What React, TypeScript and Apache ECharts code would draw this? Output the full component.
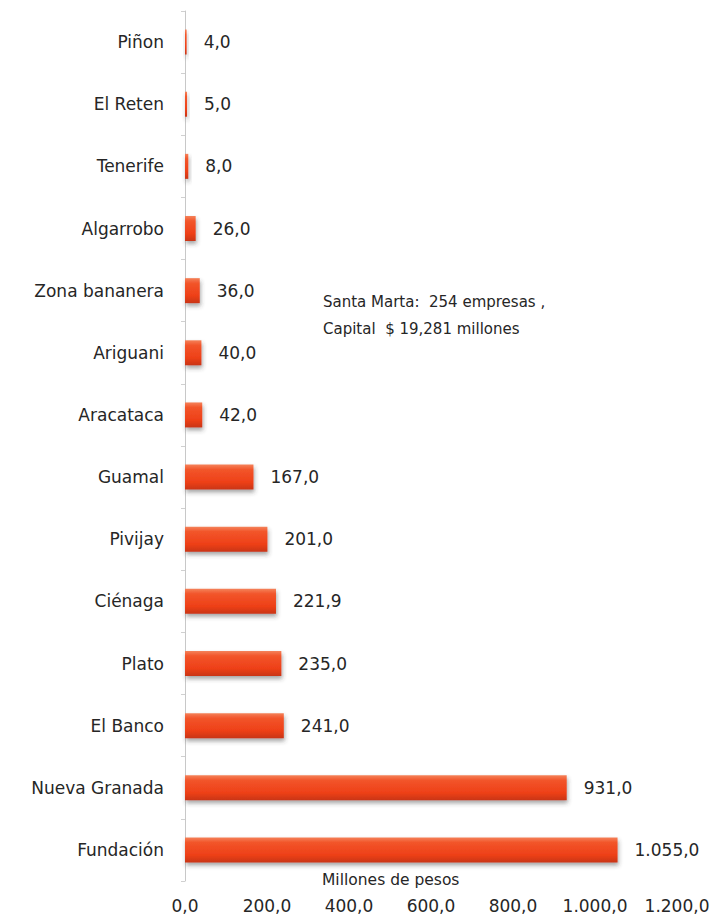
import React, { useEffect, useRef } from "react";
import * as echarts from "echarts";

const categories = [
  "Piñon",
  "El Reten",
  "Tenerife",
  "Algarrobo",
  "Zona bananera",
  "Ariguani",
  "Aracataca",
  "Guamal",
  "Pivijay",
  "Ciénaga",
  "Plato",
  "El Banco",
  "Nueva Granada",
  "Fundación",
];
const values = [4, 5, 8, 26, 36, 40, 42, 167, 201, 221.9, 235, 241, 931, 1055];
const axisTitle = "Millones de pesos";
const noteLines = ["Santa Marta:  254 empresas ,", "Capital  $ 19,281 millones"];

const FONT = "DejaVu Sans";

function fmt(v: number): string {
  const fixed = v.toFixed(1);
  const [intPart, dec] = fixed.split(".");
  const withSep = intPart.replace(/\B(?=(\d{3})+(?!\d))/g, ".");
  return withSep + "," + dec;
}

export default function App() {
  const ref = useRef<HTMLDivElement>(null);
  useEffect(() => {
    if (!ref.current) return;
    const chart = echarts.init(ref.current, null, { renderer: "svg" });
    chart.setOption({
      animation: false,
      backgroundColor: "#ffffff",
      grid: { left: 185, right: 41, top: 11, bottom: 36, containLabel: false },
      xAxis: {
        type: "value",
        min: 0,
        max: 1200,
        interval: 200,
        axisLine: { show: false },
        axisTick: { show: false },
        splitLine: { show: false },
        axisLabel: {
          margin: 16,
          color: "#262626",
          fontFamily: FONT,
          fontSize: 17,
          formatter: (v: number) => fmt(v),
        },
      },
      yAxis: {
        type: "category",
        inverse: true,
        data: categories,
        axisLine: { show: true, lineStyle: { color: "#c8c8c8", width: 1 } },
        axisTick: { show: true, length: 4, lineStyle: { color: "#d0d0d0" } },
        axisLabel: {
          margin: 21,
          color: "#262626",
          fontFamily: FONT,
          fontSize: 17,
        },
      },
      series: [
        {
          type: "bar",
          data: values,
          barWidth: 25,
          itemStyle: {
            color: new echarts.graphic.LinearGradient(0, 0, 0, 1, [
              { offset: 0, color: "#f4825a" },
              { offset: 0.2, color: "#f2552a" },
              { offset: 0.7, color: "#ee4018" },
              { offset: 1, color: "#c93514" },
            ]),
            shadowColor: "rgba(60,60,60,0.45)",
            shadowBlur: 4,
            shadowOffsetY: 3,
            shadowOffsetX: 1,
          },
          label: {
            show: true,
            position: "right",
            distance: 17,
            color: "#262626",
            fontFamily: FONT,
            fontSize: 17,
            formatter: (p: any) => fmt(p.value),
          },
        },
      ],
      graphic: [
        {
          type: "text",
          left: 322,
          top: 872,
          style: {
            text: axisTitle,
            fill: "#262626",
            font: `15.5px "${FONT}"`,
          },
        },
        {
          type: "text",
          left: 323,
          top: 288,
          style: {
            text: noteLines.join("\n"),
            fill: "#262626",
            font: `15px "${FONT}"`,
            lineHeight: 27,
          },
        },
      ],
    });
    return () => chart.dispose();
  }, []);
  return (
    <div
      ref={ref}
      style={{ position: "absolute", left: 0, top: 0, width: 718, height: 917 }}
    />
  );
}
